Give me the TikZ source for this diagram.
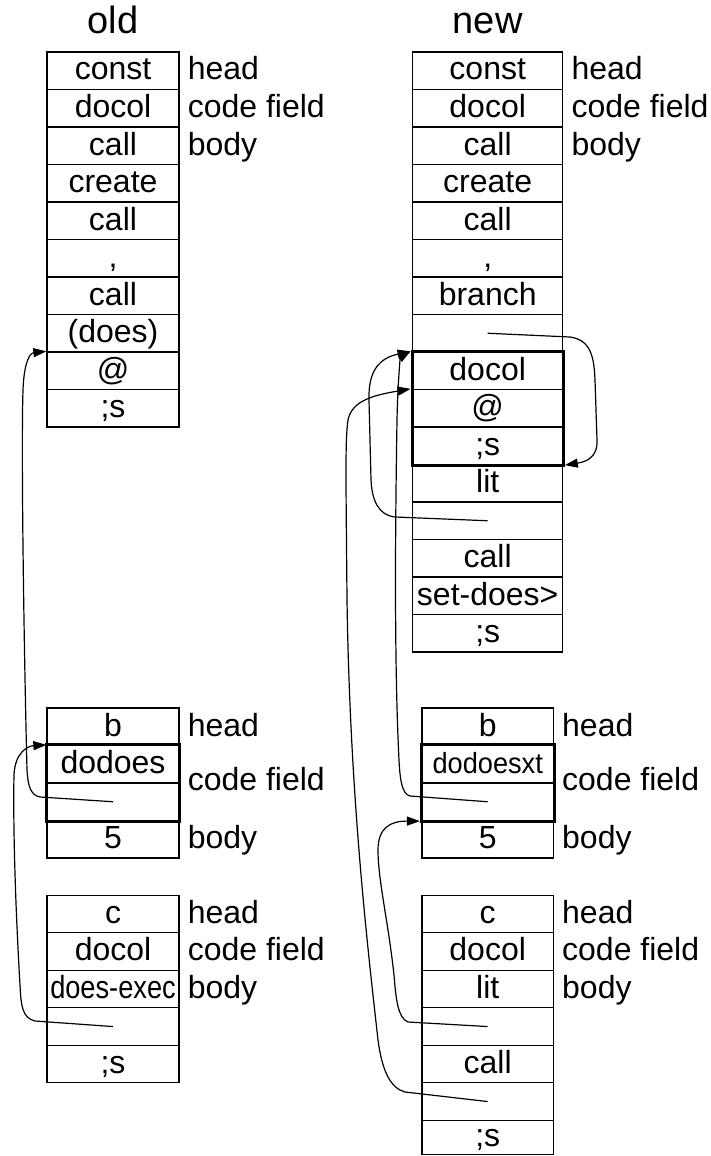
\documentclass[tikz,border=0pt]{standalone}
\usepackage{fontspec}
\setmainfont{Liberation Sans}
\usepackage{graphicx}
\usetikzlibrary{arrows.meta}
\begin{document}
\begin{tikzpicture}[x=1pt,y=-1pt,
  cell/.style={draw, line width=1.3pt, minimum width=132pt, minimum height=37.5pt,
    inner sep=0pt, text height=23.5pt, text depth=5pt,
    font=\fontsize{32}{36}\selectfont},
  lab/.style={anchor=west, inner sep=0pt, text height=23.5pt, text depth=5pt,
    font=\fontsize{32}{36}\selectfont},
  ttl/.style={anchor=base, inner sep=0pt, font=\fontsize{38}{44}\selectfont},
  thickbox/.style={draw, line width=3pt},
  conn/.style={line width=1.2pt, -{Triangle[length=13pt,width=9pt]}}]
\useasboundingbox (0,0) rectangle (711,1156);

% titles
\node[ttl] (told) at (113,34) {old};
\node[ttl] (tnew) at (487.7,34) {new};

% old: main definition
\foreach \t [count=\i] in {const,docol,call,create,call,{,},call,(does),@,;s}
  \node[cell] (L\i) at (113,{52+(\i-0.5)*37.5}) {\t};
% old: b
\foreach \t [count=\i] in {b,dodoes,{},5}
  \node[cell] (LB\i) at (113,{708+(\i-0.5)*37.5}) {\t};
% old: c
\foreach \t [count=\i] in {c,docol,{\scalebox{0.85}[1]{does-exec}},{},;s}
  \node[cell] (LC\i) at (113,{895.3+(\i-0.5)*37.5}) {\t};

% new: main definition
\foreach \t [count=\i] in {const,docol,call,create,call,{,},branch,{},docol,@,;s,lit,{},call,set-does>,;s}
  \node[cell, minimum width=150pt] (R\i) at (487.7,{52+(\i-0.5)*37.5}) {\t};
% new: b
\foreach \t [count=\i] in {b,{\scalebox{0.85}[0.91]{dodoesxt}},{},5}
  \node[cell, minimum width=131.3pt] (RB\i) at (487.7,{708+(\i-0.5)*37.5}) {\t};
% new: c
\foreach \t [count=\i] in {c,docol,lit,{},call,{}}
  \node[cell, minimum width=131.3pt] (RC\i) at (487.7,{895.3+(\i-0.5)*37.5}) {\t};
\node[cell, minimum width=131.3pt, minimum height=34.3pt] (RC7) at (487.7,1137.5) {;s};

% labels
\node[lab] (lh1) at ([xshift=8pt]L1.east) {head};
\node[lab] (lc1) at ([xshift=8pt]L2.east) {code field};
\node[lab] (lb1) at ([xshift=8pt]L3.east) {body};
\node[lab] (lh2) at ([xshift=8pt]LB1.east) {head};
\node[lab] (lc2) at ([xshift=8pt,yshift=2pt]LB2.south east) {code field};
\node[lab] (lb2) at ([xshift=8pt]LB4.east) {body};
\node[lab] (lh3) at ([xshift=8pt]LC1.east) {head};
\node[lab] (lc3) at ([xshift=8pt]LC2.east) {code field};
\node[lab] (lb3) at ([xshift=8pt]LC3.east) {body};

\node[lab] (rh1) at ([xshift=8pt]R1.east) {head};
\node[lab] (rc1) at ([xshift=8pt]R2.east) {code field};
\node[lab] (rb1) at ([xshift=8pt]R3.east) {body};
\node[lab] (rh2) at ([xshift=8pt]RB1.east) {head};
\node[lab] (rc2) at ([xshift=8pt,yshift=2pt]RB2.south east) {code field};
\node[lab] (rb2) at ([xshift=8pt]RB4.east) {body};
\node[lab] (rh3) at ([xshift=8pt]RC1.east) {head};
\node[lab] (rc3) at ([xshift=8pt]RC2.east) {code field};
\node[lab] (rb3) at ([xshift=8pt]RC3.east) {body};

% thick frames
\draw[thickbox] (LB2.north west) rectangle (LB3.south east);
\draw[thickbox] (R9.north west) rectangle (R11.south east);
\draw[thickbox] (RB2.north west) rectangle (RB3.south east);

% connectors (old)
\draw[conn] (LC4.center) -- (35,1021) .. controls (22,1018) and (21,1005) .. (20,985)
  .. controls (15,900) and (13,820) .. (14,775)
  .. controls (15,752) and (28,746) .. (LB2.north west);
\draw[conn] (LB3.center) -- (40,797) .. controls (30,795) and (28,785) .. (27,770)
  .. controls (24,650) and (21,450) .. (23,390)
  .. controls (24,362) and (30,353) .. (L9.north west);

% connectors (new)
\draw[conn] (R8.center) -- (570,337) .. controls (590,340) and (594,355) .. (595,380)
  -- (597,440) .. controls (598,458) and (585,462) .. ([xshift=1.5pt]R11.south east);
\draw[conn] (R13.center) -- (395,517) .. controls (378,515) and (372,500) .. (371,480)
  -- (369,400) .. controls (368,370) and (380,358) .. ([xshift=-1.5pt]R9.north west);
\draw[conn] (RB3.center) -- (410,796) .. controls (402,794) and (400,780) .. (399,760)
  .. controls (396,700) and (394,600) .. (397,420)
  .. controls (398,372) and (401,357) .. ([xshift=-1.5pt]R9.north west);
\draw[conn] (RC4.center) -- (408,1022) .. controls (398,1018) and (396,1000) .. (394,975)
  .. controls (388,920) and (378,880) .. (378,850)
  .. controls (378,828) and (390,821) .. ([xshift=-1.5pt]RB3.south west);
\draw[conn] (RC6.center) -- (405,1092) .. controls (390,1088) and (382,1070) .. (378,1040)
  .. controls (368,950) and (350,800) .. (347,600)
  .. controls (346,480) and (345,440) .. (348,420)
  .. controls (352,400) and (375,395) .. ([xshift=-1.5pt]R10.north west);
\end{tikzpicture}
\end{document}
